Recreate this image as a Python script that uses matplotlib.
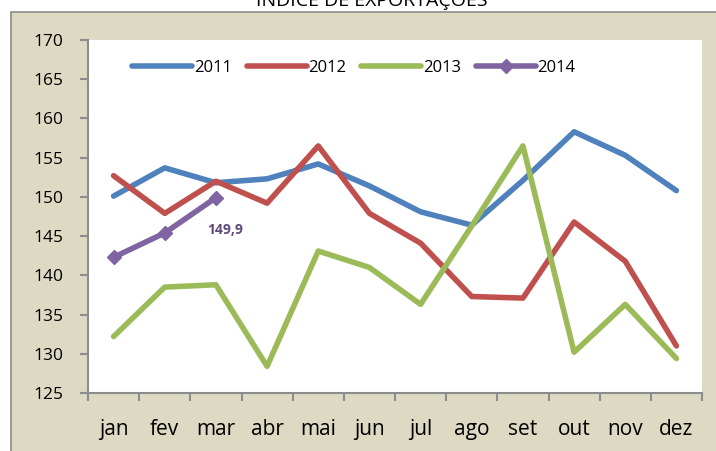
import matplotlib.pyplot as plt
from matplotlib.patches import Rectangle
import numpy as np

plt.rcParams['font.family'] = ['Open Sans', 'DejaVu Sans']

meses = ['jan', 'fev', 'mar', 'abr', 'mai', 'jun', 'jul', 'ago', 'set', 'out', 'nov', 'dez']
v2011 = [150.1, 153.7, 151.8, 152.3, 154.2, 151.4, 148.1, 146.4, 152.1, 158.3, 155.3, 150.8]
v2012 = [152.7, 147.9, 152.0, 149.2, 156.5, 147.9, 144.1, 137.3, 137.1, 146.8, 141.8, 131.0]
v2013 = [132.2, 138.5, 138.8, 128.4, 143.1, 141.0, 136.3, 146.3, 156.5, 130.2, 136.3, 129.4]
v2014 = [142.3, 145.4, 149.9]

W, H = 716, 451
fig = plt.figure(figsize=(W / 100, H / 100), dpi=100)
fig.patch.set_facecolor('white')

# fundo bege do gráfico
fig.patches.append(Rectangle((11 / W, -0.05), 1.0, 1 - 12 / H + 0.05, transform=fig.transFigure,
                             facecolor='#DDD9C3', edgecolor='#8C8C8C', linewidth=1.2, zorder=-10))

# título cortado no topo
fig.text(372 / W, 1 - 6 / H, 'ÍNDICE DE EXPORTAÇÕES', ha='center', va='baseline', fontsize=14)

ax = fig.add_axes([88 / W, 1 - 393 / H, (702 - 88) / W, (393 - 40) / H])
ax.set_facecolor('white')
x = np.arange(len(meses))

ax.plot(x, v2011, color='#4F81BD', lw=4, label='2011', solid_capstyle='round', solid_joinstyle='round')
ax.plot(x, v2012, color='#C0504D', lw=4, label='2012', solid_capstyle='round', solid_joinstyle='round')
ax.plot(x, v2013, color='#9BBB59', lw=4, label='2013', solid_capstyle='round', solid_joinstyle='round')
ax.plot(x[:len(v2014)], v2014, color='#8064A2', lw=4, marker='D', markersize=7,
        label='2014', solid_capstyle='round', solid_joinstyle='round')

ax.annotate('149,9', (2, v2014[-1]), xytext=(7, -28), textcoords='offset points',
            ha='center', va='bottom', color='#604A7B', fontsize=10, fontweight='bold')

ax.set_xlim(-0.5, 11.5)
ax.set_ylim(125, 170)
ax.set_yticks(np.arange(125, 171, 5))
ax.set_xticks(x)
ax.set_xticklabels(meses, fontsize=15)
ax.set_xticks(np.arange(-0.5, 12, 1), minor=True)
ax.tick_params(axis='x', which='major', length=0, pad=19)
ax.tick_params(axis='x', which='minor', length=6, color='#8C8C8C', width=1.5)
ax.tick_params(axis='y', length=6, color='#8C8C8C', width=1.5, labelsize=12.5, pad=12)

for s in ['top', 'right']:
    ax.spines[s].set_visible(False)
for s in ['left', 'bottom']:
    ax.spines[s].set_color('#8C8C8C')
    ax.spines[s].set_linewidth(1.5)

ax.legend(loc='upper center', bbox_to_anchor=(0.433, 0.985), ncol=4, frameon=False, fontsize=12,
          handlelength=3.6, handletextpad=0.1, columnspacing=0.9)

fig.savefig('out.png', dpi=100)
